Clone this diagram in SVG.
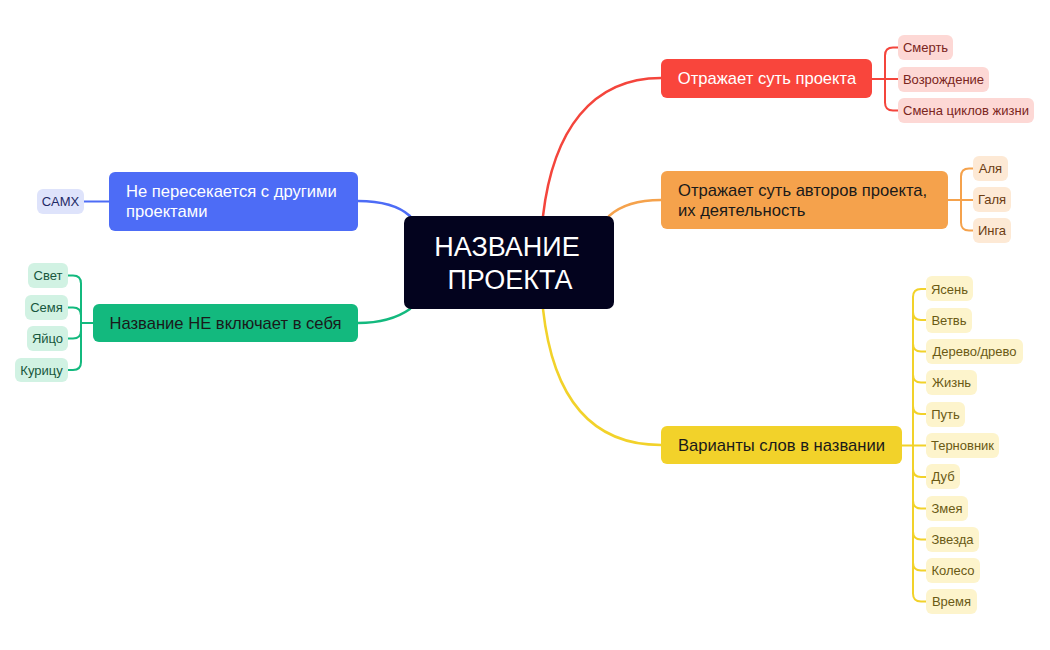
<svg xmlns="http://www.w3.org/2000/svg" width="1050" height="650" viewBox="0 0 1050 650">
<style>
text{font-family:"Liberation Sans",Arial,sans-serif}
.main{font-size:16.6px}
.leaf{font-size:13px;text-anchor:middle}
.c{fill:none;stroke-width:2.5;stroke-linecap:round}
.b{fill:none;stroke-width:2;stroke-linecap:round}
.red{stroke:#F4453C}.org{stroke:#F5A24C}.yel{stroke:#F2D22A}.blu{stroke:#4D6CF6}.grn{stroke:#13B97E}
.lr{fill:#FDD8D5}.lo{fill:#FDE9D5}.ly{fill:#FDF4CC}.lb{fill:#DEE3FB}.lg{fill:#D1F2E3}
.tr{fill:#7A2520}.to{fill:#6B3C12}.ty{fill:#6A5A14}.tb{fill:#1E2A66}.tg{fill:#17573D}
</style>
<rect width="1050" height="650" fill="#fff"/>
<g id="connectors">
<path class="c red" d="M543,216 C553,130 592,78 661,78"/>
<path class="c org" d="M609,216 C620,206 636,200 661,200"/>
<path class="c yel" d="M543,309 C553,400 592,445 661,445"/>
<path class="c blu" d="M358,201 C385,201 400,207 410,216"/>
<path class="c grn" d="M358,323 C385,323 400,316 410,309"/>
<path class="b red" d="M872,79 H898 M898,47.5 H893 Q885,47.5 885,55.5 V102.5 Q885,110.5 893,110.5 H898"/>
<path class="b org" d="M948,200 H973 M973,168.5 H969 Q961,168.5 961,176.5 V222.5 Q961,230.5 969,230.5 H973"/>
<path class="b blu" d="M84,201.5 H109"/>
<path class="b grn" d="M93,323 H81 M68,275.5 H73 Q81,275.5 81,283.5 V362 Q81,370 73,370 H68 M68,307.5 H73 Q81,307.5 81,315.5 M68,338.5 H73 Q81,338.5 81,330.5"/>
<path class="b yel" d="M902,445.5 H926 M926,289 H921 Q913,289 913,297 V593.5 Q913,601.5 921,601.5 H926 M926,320 H921 Q913,320 913,312 M926,351.5 H921 Q913,351.5 913,343.5 M926,382.5 H921 Q913,382.5 913,374.5 M926,414 H921 Q913,414 913,406 M926,477 H921 Q913,477 913,469 M926,508.5 H921 Q913,508.5 913,500.5 M926,539.5 H921 Q913,539.5 913,531.5 M926,570.5 H921 Q913,570.5 913,562.5"/>
</g>
<g id="center">
<rect x="404" y="216" width="210" height="93" rx="7" fill="#03031E"/>
<text x="507" y="256" font-size="27" fill="#fff" text-anchor="middle">НАЗВАНИЕ</text>
<text x="510" y="289" font-size="27" fill="#fff" text-anchor="middle">ПРОЕКТА</text>
</g>
<g id="n-red">
<rect x="661" y="59" width="211" height="39" rx="6" fill="#F9453C"/>
<text class="main" x="767" y="84" fill="#fff" text-anchor="middle">Отражает суть проекта</text>
</g>
<g id="n-orange">
<rect x="661" y="171" width="287" height="58" rx="6" fill="#F5A24C"/>
<text class="main" x="678" y="196" fill="#1a1a1a">Отражает суть авторов проекта,</text>
<text class="main" x="678" y="216" fill="#1a1a1a">их деятельность</text>
</g>
<g id="n-yellow">
<rect x="661" y="426" width="241" height="38" rx="6" fill="#F2D22A"/>
<text class="main" x="781.5" y="451" fill="#1a1a1a" text-anchor="middle">Варианты слов в названии</text>
</g>
<g id="n-blue">
<rect x="109" y="172" width="249" height="59" rx="6" fill="#4D6CF6"/>
<text class="main" x="126" y="197" fill="#fff">Не пересекается с другими</text>
<text class="main" x="126" y="217" fill="#fff">проектами</text>
</g>
<g id="n-green">
<rect x="93" y="304" width="265" height="38" rx="6" fill="#13B97E"/>
<text class="main" x="225.5" y="329" fill="#1a1a1a" text-anchor="middle">Название НЕ включает в себя</text>
</g>
<g id="leaf-smert"><rect class="lr" x="898" y="35" width="55" height="25" rx="6"/><text class="leaf tr" x="925.5" y="52">Смерть</text></g>
<g id="leaf-vozrozhdenie"><rect class="lr" x="898" y="67" width="91" height="25" rx="6"/><text class="leaf tr" x="943.5" y="84">Возрождение</text></g>
<g id="leaf-smena"><rect class="lr" x="898" y="98" width="136" height="25" rx="6"/><text class="leaf tr" x="966" y="115">Смена циклов жизни</text></g>
<g id="leaf-alya"><rect class="lo" x="973" y="156" width="35" height="25" rx="6"/><text class="leaf to" x="990.5" y="173">Аля</text></g>
<g id="leaf-galya"><rect class="lo" x="973" y="187" width="38" height="25" rx="6"/><text class="leaf to" x="992" y="204">Галя</text></g>
<g id="leaf-inga"><rect class="lo" x="973" y="218" width="38" height="25" rx="6"/><text class="leaf to" x="992" y="235">Инга</text></g>
<g id="leaf-samh"><rect class="lb" x="37" y="189" width="47" height="25" rx="6"/><text class="leaf tb" x="60.5" y="206">САМХ</text></g>
<g id="leaf-svet"><rect class="lg" x="28" y="263" width="40" height="25" rx="6"/><text class="leaf tg" x="48" y="280">Свет</text></g>
<g id="leaf-semya"><rect class="lg" x="25" y="295" width="43" height="25" rx="6"/><text class="leaf tg" x="46.5" y="312">Семя</text></g>
<g id="leaf-yaitso"><rect class="lg" x="27" y="326" width="41" height="25" rx="6"/><text class="leaf tg" x="47.5" y="343">Яйцо</text></g>
<g id="leaf-kuritsu"><rect class="lg" x="15" y="358" width="53" height="24" rx="6"/><text class="leaf tg" x="41.5" y="375">Курицу</text></g>
<g id="leaf-yasen"><rect class="ly" x="926" y="276" width="47" height="25" rx="6"/><text class="leaf ty" x="949.5" y="293.5">Ясень</text></g>
<g id="leaf-vetv"><rect class="ly" x="926" y="308" width="46" height="25" rx="6"/><text class="leaf ty" x="949" y="325">Ветвь</text></g>
<g id="leaf-derevo"><rect class="ly" x="926" y="339" width="97" height="25" rx="6"/><text class="leaf ty" x="974.5" y="356">Дерево/древо</text></g>
<g id="leaf-zhizn"><rect class="ly" x="926" y="370" width="51" height="25" rx="6"/><text class="leaf ty" x="951.5" y="387">Жизнь</text></g>
<g id="leaf-put"><rect class="ly" x="926" y="402" width="39" height="25" rx="6"/><text class="leaf ty" x="945.5" y="419">Путь</text></g>
<g id="leaf-ternovnik"><rect class="ly" x="926" y="433" width="73" height="25" rx="6"/><text class="leaf ty" x="962.5" y="450">Терновник</text></g>
<g id="leaf-dub"><rect class="ly" x="926" y="464" width="34" height="25" rx="6"/><text class="leaf ty" x="943" y="481">Дуб</text></g>
<g id="leaf-zmeya"><rect class="ly" x="926" y="496" width="42" height="25" rx="6"/><text class="leaf ty" x="947" y="513">Змея</text></g>
<g id="leaf-zvezda"><rect class="ly" x="926" y="527" width="53" height="25" rx="6"/><text class="leaf ty" x="952.5" y="544">Звезда</text></g>
<g id="leaf-koleso"><rect class="ly" x="926" y="558" width="54" height="25" rx="6"/><text class="leaf ty" x="953" y="575">Колесо</text></g>
<g id="leaf-vremya"><rect class="ly" x="926" y="589" width="51" height="25" rx="6"/><text class="leaf ty" x="951.5" y="606">Время</text></g>
</svg>
